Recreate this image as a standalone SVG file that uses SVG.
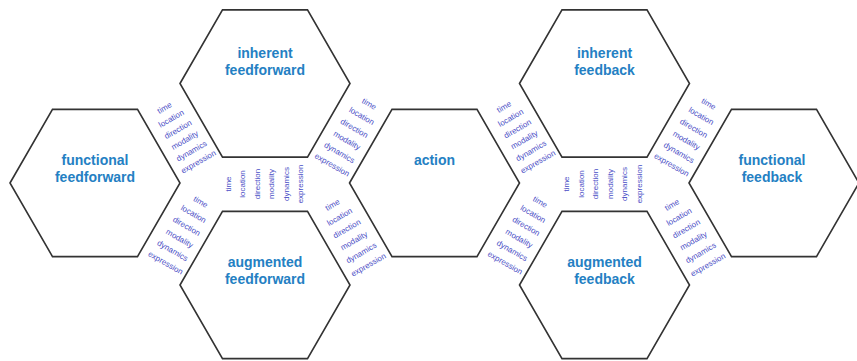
<svg xmlns="http://www.w3.org/2000/svg" xmlns:xlink="http://www.w3.org/1999/xlink" width="857" height="361" viewBox="0 0 857 361">
<style>
.hex{fill:#fff;stroke:#333;stroke-width:1.6;stroke-linejoin:miter}
.lbl{font-family:"Liberation Sans",Arial,sans-serif;font-size:14px;font-weight:bold;fill:#2480c3;text-anchor:middle}
.att{font-family:"Liberation Sans",Arial,sans-serif;font-size:8px;fill:#4a4ec6;text-anchor:middle}
</style>
<defs>
<polygon id="hex" points="-85,0 -42.5,-73.6 42.5,-73.6 85,0 42.5,73.6 -42.5,73.6"/>
</defs>
<rect width="857" height="361" fill="#fff"/>
<g id="functional-feedforward">
<use xlink:href="#hex" href="#hex" class="hex" x="95" y="183"/>
<text class="lbl" x="95" y="165">functional</text>
<text class="lbl" x="95" y="182">feedforward</text>
</g>
<g id="inherent-feedforward">
<use xlink:href="#hex" href="#hex" class="hex" x="265" y="83.5"/>
<text class="lbl" x="265" y="58">inherent</text>
<text class="lbl" x="265" y="75">feedforward</text>
</g>
<g id="augmented-feedforward">
<use xlink:href="#hex" href="#hex" class="hex" x="265" y="285"/>
<text class="lbl" x="265" y="267">augmented</text>
<text class="lbl" x="265" y="284">feedforward</text>
</g>
<g id="action">
<use xlink:href="#hex" href="#hex" class="hex" x="434.5" y="183"/>
<text class="lbl" x="434.5" y="165">action</text>
</g>
<g id="inherent-feedback">
<use xlink:href="#hex" href="#hex" class="hex" x="604.5" y="83.5"/>
<text class="lbl" x="604.5" y="58">inherent</text>
<text class="lbl" x="604.5" y="75">feedback</text>
</g>
<g id="augmented-feedback">
<use xlink:href="#hex" href="#hex" class="hex" x="604.5" y="285"/>
<text class="lbl" x="604.5" y="267">augmented</text>
<text class="lbl" x="604.5" y="284">feedback</text>
</g>
<g id="functional-feedback">
<use xlink:href="#hex" href="#hex" class="hex" x="774" y="183"/>
<text class="lbl" x="772" y="165">functional</text>
<text class="lbl" x="772" y="182">feedback</text>
</g>
<g id="connectors">
<g id="attributes-left">
<g id="g1">
<text class="att" y="2.5" transform="translate(164.5,108) rotate(-30)">time</text>
<text class="att" y="2.5" transform="translate(171.3,118.8) rotate(-30)">location</text>
<text class="att" y="2.5" transform="translate(178.1,129.6) rotate(-30)">direction</text>
<text class="att" y="2.5" transform="translate(184.9,140.4) rotate(-30)">modality</text>
<text class="att" y="2.5" transform="translate(191.7,151.2) rotate(-30)">dynamics</text>
<text class="att" y="2.5" transform="translate(198.5,162) rotate(-30)">expression</text>
</g>
<g id="g2">
<text class="att" y="2.5" transform="translate(369,104) rotate(30)">time</text>
<text class="att" y="2.5" transform="translate(361.6,116.2) rotate(30)">location</text>
<text class="att" y="2.5" transform="translate(354.2,128.4) rotate(30)">direction</text>
<text class="att" y="2.5" transform="translate(346.8,140.6) rotate(30)">modality</text>
<text class="att" y="2.5" transform="translate(339.4,152.8) rotate(30)">dynamics</text>
<text class="att" y="2.5" transform="translate(332,165) rotate(30)">expression</text>
</g>
<g id="g3">
<text class="att" y="2.5" transform="translate(228,184) rotate(-90)">time</text>
<text class="att" y="2.5" transform="translate(242.5,184) rotate(-90)">location</text>
<text class="att" y="2.5" transform="translate(257,184) rotate(-90)">direction</text>
<text class="att" y="2.5" transform="translate(271.5,184) rotate(-90)">modality</text>
<text class="att" y="2.5" transform="translate(286,184) rotate(-90)">dynamics</text>
<text class="att" y="2.5" transform="translate(300.5,184) rotate(-90)">expression</text>
</g>
<g id="g4">
<text class="att" y="2.5" transform="translate(200.5,202) rotate(30)">time</text>
<text class="att" y="2.5" transform="translate(193.5,214.2) rotate(30)">location</text>
<text class="att" y="2.5" transform="translate(186.5,226.4) rotate(30)">direction</text>
<text class="att" y="2.5" transform="translate(179.5,238.6) rotate(30)">modality</text>
<text class="att" y="2.5" transform="translate(172.5,250.8) rotate(30)">dynamics</text>
<text class="att" y="2.5" transform="translate(165.5,263) rotate(30)">expression</text>
</g>
<g id="g5">
<text class="att" y="2.5" transform="translate(332.5,205) rotate(-30)">time</text>
<text class="att" y="2.5" transform="translate(339.7,217) rotate(-30)">location</text>
<text class="att" y="2.5" transform="translate(346.9,229) rotate(-30)">direction</text>
<text class="att" y="2.5" transform="translate(354.1,241) rotate(-30)">modality</text>
<text class="att" y="2.5" transform="translate(361.3,253) rotate(-30)">dynamics</text>
<text class="att" y="2.5" transform="translate(368.5,265) rotate(-30)">expression</text>
</g>
</g>
<g id="attributes-right" transform="translate(339.5,0)">
<g id="g6">
<text class="att" y="2.5" transform="translate(164.5,107) rotate(-30)">time</text>
<text class="att" y="2.5" transform="translate(171.3,118) rotate(-30)">location</text>
<text class="att" y="2.5" transform="translate(178.1,129) rotate(-30)">direction</text>
<text class="att" y="2.5" transform="translate(184.9,140) rotate(-30)">modality</text>
<text class="att" y="2.5" transform="translate(191.7,151) rotate(-30)">dynamics</text>
<text class="att" y="2.5" transform="translate(198.5,162) rotate(-30)">expression</text>
</g>
<g id="g7">
<text class="att" y="2.5" transform="translate(369,104) rotate(30)">time</text>
<text class="att" y="2.5" transform="translate(361.6,116.2) rotate(30)">location</text>
<text class="att" y="2.5" transform="translate(354.2,128.4) rotate(30)">direction</text>
<text class="att" y="2.5" transform="translate(346.8,140.6) rotate(30)">modality</text>
<text class="att" y="2.5" transform="translate(339.4,152.8) rotate(30)">dynamics</text>
<text class="att" y="2.5" transform="translate(332,165) rotate(30)">expression</text>
</g>
<g id="g8">
<text class="att" y="2.5" transform="translate(227,184) rotate(-90)">time</text>
<text class="att" y="2.5" transform="translate(241.5,184) rotate(-90)">location</text>
<text class="att" y="2.5" transform="translate(256,184) rotate(-90)">direction</text>
<text class="att" y="2.5" transform="translate(270.5,184) rotate(-90)">modality</text>
<text class="att" y="2.5" transform="translate(285,184) rotate(-90)">dynamics</text>
<text class="att" y="2.5" transform="translate(299.5,184) rotate(-90)">expression</text>
</g>
<g id="g9">
<text class="att" y="2.5" transform="translate(200.5,202) rotate(30)">time</text>
<text class="att" y="2.5" transform="translate(193.5,214.2) rotate(30)">location</text>
<text class="att" y="2.5" transform="translate(186.5,226.4) rotate(30)">direction</text>
<text class="att" y="2.5" transform="translate(179.5,238.6) rotate(30)">modality</text>
<text class="att" y="2.5" transform="translate(172.5,250.8) rotate(30)">dynamics</text>
<text class="att" y="2.5" transform="translate(165.5,263) rotate(30)">expression</text>
</g>
<g id="g10">
<text class="att" y="2.5" transform="translate(332.5,205) rotate(-30)">time</text>
<text class="att" y="2.5" transform="translate(339.7,217) rotate(-30)">location</text>
<text class="att" y="2.5" transform="translate(346.9,229) rotate(-30)">direction</text>
<text class="att" y="2.5" transform="translate(354.1,241) rotate(-30)">modality</text>
<text class="att" y="2.5" transform="translate(361.3,253) rotate(-30)">dynamics</text>
<text class="att" y="2.5" transform="translate(368.5,265) rotate(-30)">expression</text>
</g>
</g>
</g>
</svg>
